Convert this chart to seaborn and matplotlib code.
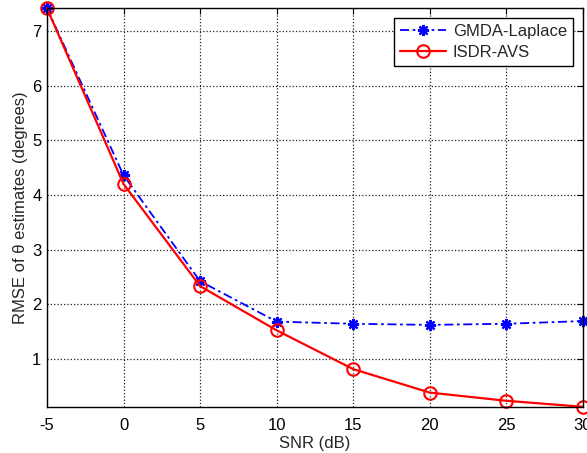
import matplotlib
matplotlib.use("Agg")
import matplotlib.pyplot as plt
import numpy as np
import pandas as pd
import seaborn as sns

# SNR sweep and RMSE of the theta estimates for both methods
snr_db = [-5, 0, 5, 10, 15, 20, 25, 30]
rmse_gmda = [7.42, 4.36, 2.42, 1.68, 1.64, 1.62, 1.64, 1.69]
rmse_isdr = [7.42, 4.20, 2.33, 1.52, 0.81, 0.38, 0.23, 0.12]
series_names = ["GMDA-Laplace", "ISDR-AVS"]

sns.set_style("white")
plt.rcParams["font.family"] = ["Liberation Sans", "DejaVu Sans"]
plt.rcParams.update({
    "axes.unicode_minus": False,
    "xtick.direction": "in",
    "ytick.direction": "in",
    "xtick.major.size": 4,
    "ytick.major.size": 4,
    "axes.linewidth": 1.0,
})

df = pd.DataFrame({
    "snr": snr_db * 2,
    "rmse": rmse_gmda + rmse_isdr,
    "method": [series_names[0]] * len(snr_db) + [series_names[1]] * len(snr_db),
})

fig = plt.figure(figsize=(5.87, 4.53), dpi=100)
ax = fig.add_axes([0.080, 0.102, 0.913, 0.880])

# MATLAB-ish styling: blue dash-dot with asterisks, red solid with open circles
styles = {
    "GMDA-Laplace": dict(color="#0000ff", linestyle=(0, (5, 2, 1.5, 2)), marker=(8, 2, 0),
                         markersize=8, markeredgecolor="#0000ff", markeredgewidth=1.6,
                         linewidth=1.3),
    "ISDR-AVS": dict(color="#ff0000", linestyle="-", marker="o", markersize=9,
                     markerfacecolor="none", markeredgecolor="#ff0000", markeredgewidth=1.5,
                     linewidth=1.6),
}
for name in series_names:
    sub = df[df["method"] == name]
    sns.lineplot(data=sub, x="snr", y="rmse", ax=ax, label=name, clip_on=False,
                 **styles[name])

ax.set_xlim(-5, 30)
ax.set_ylim(min(rmse_isdr), max(rmse_gmda))
ax.set_xticks(snr_db)
ax.set_yticks([1, 2, 3, 4, 5, 6, 7])
ax.grid(True, color="#222222", linestyle=":", linewidth=0.9)
for side in ["top", "right", "left", "bottom"]:
    ax.spines[side].set_visible(True)
    ax.spines[side].set_color("black")
ax.tick_params(labelsize=12, colors="black", top=True, right=True)
ax.tick_params(axis="x", pad=8)
ax.tick_params(axis="y", pad=4)

ax.set_xlabel("SNR (dB)", fontsize=12, labelpad=2)
ax.set_ylabel("RMSE of θ estimates (degrees)", fontsize=12, labelpad=3)

leg = ax.legend(loc="upper right", fontsize=12, frameon=True, fancybox=False,
                edgecolor="black", framealpha=1, borderaxespad=0.6, handlelength=2.8,
                borderpad=0.35, labelspacing=0.35, handletextpad=0.4)
leg.get_frame().set_linewidth(1.0)

fig.savefig("out.png", dpi=100)
plt.close(fig)
